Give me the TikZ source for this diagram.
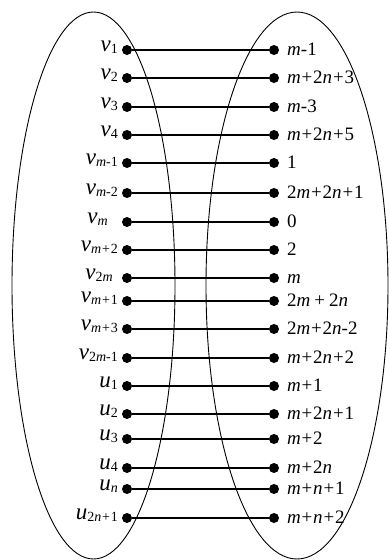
\documentclass[tikz,border=0pt]{standalone}
\usepackage{fontspec}
\setmainfont{Liberation Serif}
\newcommand{\lsb}[1]{\raisebox{-2pt}{\fontsize{14}{14}\selectfont #1}}
\newcommand{\vv}[1]{\textit{v}\lsb{#1}}
\newcommand{\uu}[1]{\textit{u}\lsb{#1}}
\newcommand{\im}{\textit{m}}
\newcommand{\iN}{\textit{n}}
\newcommand{\pl}{\kern0.8pt+\kern0.8pt}
\begin{document}
\begin{tikzpicture}[x=1pt,y=-1pt,
  dot/.style={circle,fill,inner sep=0pt,minimum size=10pt},
  edge/.style={line width=2.4pt},
  leftlab/.style={inner sep=0pt,anchor=base east,font=\fontsize{23}{23}\selectfont},
  rightlab/.style={inner sep=0pt,anchor=base west,font=\fontsize{19}{19}\selectfont},
  blob/.style={line width=0.9pt}]
\useasboundingbox (0,0) rectangle (389,560);
\draw[blob] (93.5,285.5) ellipse [x radius=81.5, y radius=273.5];
\draw[blob] (297,285.5) ellipse [x radius=91, y radius=273.5];
\foreach \y/\l/\r/\xo [count=\i] in {
  50/\vv{1}/\im-1/0,
  78/\vv{2}/\im\pl2\iN\pl3/0,
  107/\vv{3}/\im-3/0,
  135/\vv{4}/\im\pl2\iN\pl5/0,
  163/\vv{\im-1}/1/0,
  193/\vv{\im-2}/2\im\pl2\iN\pl1/0,
  222/\vv{\im}/0/10,
  250/\vv{\im\pl2}/2/0,
  278/\vv{2\im}/\im/5,
  301/\vv{\im\pl1}/2\im\kern4pt+\kern4pt2\iN/0,
  329/\vv{\im\pl3}/2\im\pl2\iN-2/0,
  358/\vv{2\im-1}/\im\pl2\iN\pl2/0,
  386/\uu{1}/\im\pl1/0,
  414/\uu{2}/\im\pl2\iN\pl1/0,
  439/\uu{3}/\im\pl2/0,
  468/\uu{4}/\im\pl2\iN/0,
  489/\uu{\iN}/\im\pl\iN\pl1/0,
  518/\uu{2\iN\pl1}/\im\pl\iN\pl2/0}
{
  \node[dot] (a\i) at (127,\y) {};
  \node[dot] (b\i) at (274,\y) {};
  \draw[edge] (a\i) -- (b\i);
  \node[leftlab] (la\i) at ([xshift=-9pt-\xo pt,yshift=-1pt]a\i.center) {\l};
  \node[rightlab] (lb\i) at ([xshift=13pt,yshift=-5pt]b\i.center) {\r};
}
\end{tikzpicture}
\end{document}
